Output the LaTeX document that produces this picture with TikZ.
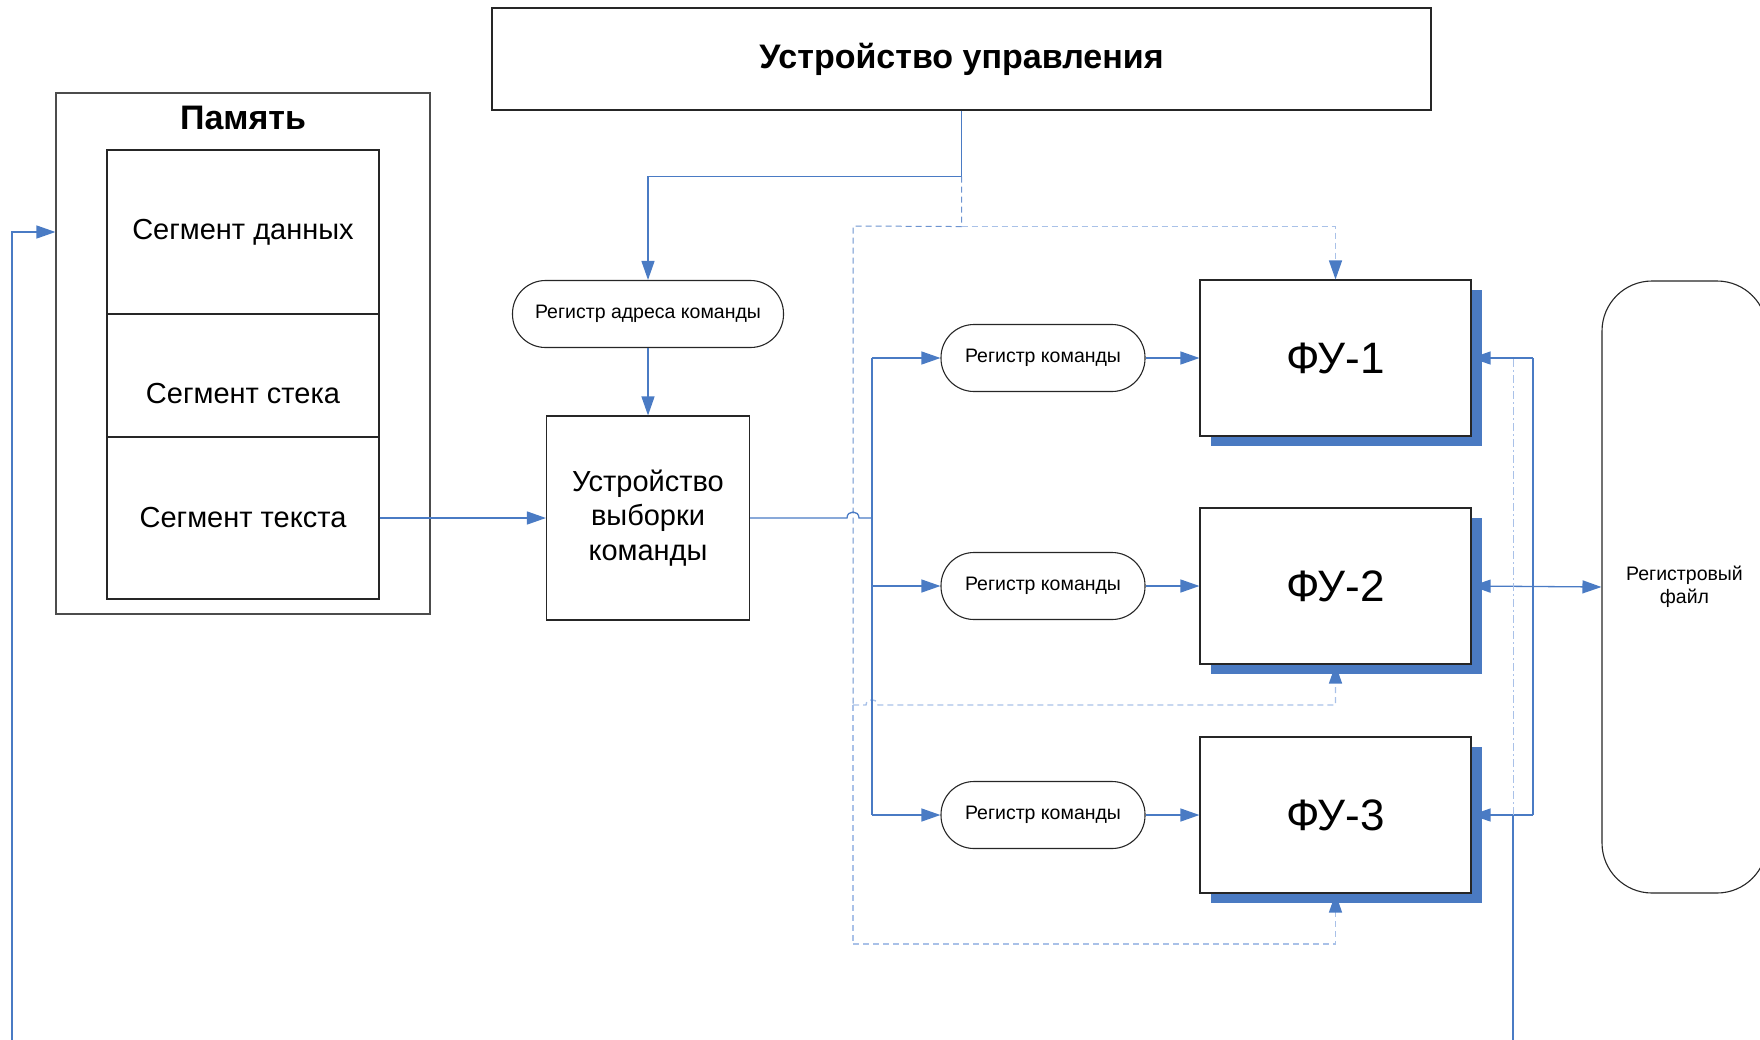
\documentclass[tikz,border=0pt]{standalone}
\usepackage{fontspec}
\setmainfont{Liberation Sans}
\usetikzlibrary{arrows.meta,shadows,calc}
\definecolor{lnblue}{HTML}{4A7BC4}
\definecolor{ltblue}{HTML}{A9C1E8}
\definecolor{mdblue}{HTML}{6C93D0}
\definecolor{shblue}{HTML}{4A7AC2}
\pgfdeclarelayer{bg}
\pgfsetlayers{bg,main}
\begin{document}
\begin{tikzpicture}[x=1pt,y=-1pt,
  box/.style={draw=black!85, line width=1.1pt, fill=white, inner sep=0pt},
  pill/.style={box, rounded corners=33pt, minimum width=204, minimum height=67, font=\fontsize{19.5}{23}\selectfont},
  fubox/.style={box, minimum width=271, minimum height=156, font=\fontsize{44}{52}\selectfont,
     drop shadow={shadow xshift=11pt, shadow yshift=-10pt, fill=shblue, opacity=1, draw=none}},
  segtxt/.style={font=\fontsize{29}{35}\selectfont},
  conn/.style={draw=lnblue, line width=1.3pt},
  tip/.tip={Triangle[length=19pt,width=13pt]},
  arr/.style={conn, -tip},
  ctrl/.style={draw=mdblue, line width=1pt, dash pattern=on 6pt off 4pt},
  ltline/.style={draw=ltblue, line width=1.4pt, dash pattern=on 6pt off 4pt},
  ltarr/.style={ltline, -{Triangle[length=19pt,width=13pt,color=lnblue]}},
]
\useasboundingbox (0,0) rectangle (1760,1039);

% control unit
\node[box, minimum width=939, minimum height=102, font=\bfseries\fontsize{34}{40}\selectfont] (cu) at (961.5,59) {Устройство управления};

% memory
\node[box, draw=black!70, minimum width=374, minimum height=521] (mem) at (243,353.5) {};
\node[font=\bfseries\fontsize{34}{40}\selectfont] (memt) at (243,118) {Память};
\node[box, minimum width=272, minimum height=164, segtxt] (seg1) at (243,232) {Сегмент данных};
\node[box, minimum width=272, minimum height=123] (seg2) at (243,375.5) {};
\node[segtxt] (seg2t) at (243,394) {Сегмент стека};
\node[box, minimum width=272, minimum height=162, segtxt] (seg3) at (243,518) {Сегмент текста};

% fetch
\node[pill, minimum width=271] (rak) at (648,314) {Регистр адреса команды};
\node[box, minimum width=203, minimum height=204, align=center, font=\fontsize{29}{34.5}\selectfont] (uvk) at (648,518) {Устройство\\выборки\\команды};

% registers and FUs
\node[pill] (rk1) at (1043,358) {Регистр команды};
\node[pill] (rk2) at (1043,586) {Регистр команды};
\node[pill] (rk3) at (1043,815) {Регистр команды};
\node[fubox] (fu1) at (1335.5,358) {ФУ-1};
\node[fubox] (fu2) at (1335.5,586) {ФУ-2};
\node[fubox] (fu3) at (1335.5,815) {ФУ-3};

% register file
\node[box, rounded corners=50pt, minimum width=165, minimum height=612, align=center, font=\fontsize{19.5}{23.5}\selectfont] (rf) at (1684.5,587) {Регистровый\\файл};

% feedback to memory
\coordinate (fb) at (12,1045);
\draw[arr] (fb) |- (mem.west |- seg1.center);
% text segment -> fetch unit
\draw[arr] (seg3.east) -- (uvk.west);

% control unit -> address register
\coordinate (c1) at ($(cu.south)+(0,66)$);
\draw[arr] (cu.south) -- (c1) -| (rak.north);
\draw[arr] (rak.south) -- (uvk.north);

% control dashed lines
\coordinate (c2) at ($(c1)+(0,50)$);
\coordinate (dl) at (853,226);
\coordinate (d2) at (853,705);
\coordinate (d3) at (853,944);
\draw[ctrl] (c1) -- (c2) -- (dl) -- (d2);
\draw[ltline] (d2) -- (d3);
\draw[ltarr] (c2) -| (fu1.north);
\begin{pgfonlayer}{bg}
\draw[ltarr] (d2) -- (866,705) .. controls (866,698) and (878,698) .. (878,705) -| (fu2.south);
\draw[ltarr] (d3) -| (fu3.south);
\end{pgfonlayer}

% fetch -> bus
\coordinate (bus) at (872,518);
\draw[conn] (uvk.east) -- (847,518) .. controls (847,510) and (859,510) .. (859,518) -- (bus);
\draw[conn] (bus |- rk1.west) -- (bus |- rk3.west);
\draw[arr] (bus |- rk1.west) -- (rk1.west);
\draw[arr] (bus |- rk2.west) -- (rk2.west);
\draw[arr] (bus |- rk3.west) -- (rk3.west);
\draw[arr] (rk1) -- (fu1);
\draw[arr] (rk2) -- (fu2);
\draw[arr] (rk3) -- (fu3);

% right side
\coordinate (rb) at (1533,586);
\coordinate (ob) at (1513,1045);
\draw[ltline, dash pattern=on 8pt off 3pt on 2pt off 3pt, line width=1pt] (ob |- fu3.east) -- (ob |- fu1.east);
\draw[conn] (ob) -- (ob |- fu3.east);
\draw[conn] (rb |- fu1.east) -- (rb |- fu3.east);
\begin{pgfonlayer}{bg}
\draw[arr] (rb |- fu1.east) -- (fu1.east);
\draw[arr] (rb |- fu3.east) -- (fu3.east);
\draw[conn, tip-tip] (fu2.east) -- (rf.west);
\end{pgfonlayer}
\end{tikzpicture}
\end{document}
